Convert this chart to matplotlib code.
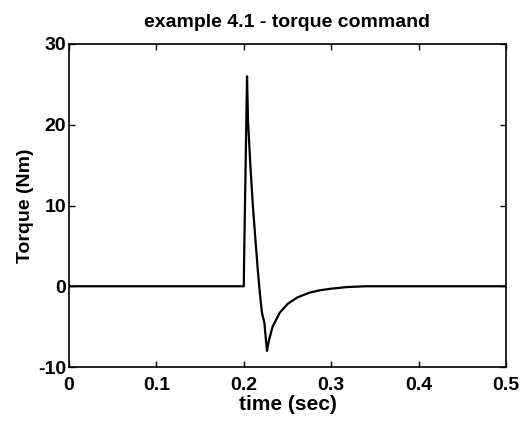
import matplotlib
matplotlib.use("Agg")
import matplotlib.pyplot as plt

# torque command
time_s = [0.0, 0.1, 0.2, 0.2003, 0.2037, 0.2048, 0.2075, 0.2105, 0.2135, 0.216,
          0.2185, 0.2208, 0.2235, 0.2265, 0.229, 0.233, 0.241, 0.25, 0.261,
          0.275, 0.287, 0.300, 0.318, 0.34, 0.4, 0.5]
torque_nm = [0.0, 0.0, 0.0, 3.0, 26.0, 20.6, 15.0, 9.8, 5.5, 2.0,
             -1.0, -3.3, -4.5, -8.0, -6.6, -5.0, -3.3, -2.2, -1.4,
             -0.8, -0.5, -0.3, -0.1, 0.0, 0.0, 0.0]

x_ticks = [0, 0.1, 0.2, 0.3, 0.4, 0.5]
x_labels = ['0', '0.1', '0.2', '0.3', '0.4', '0.5']
y_ticks = [-10, 0, 10, 20, 30]
y_labels = ['-10', '0', '10', '20', '30']

plt.rcParams['font.family'] = ['Liberation Sans', 'DejaVu Sans']
plt.rcParams['font.weight'] = 'bold'

fig = plt.figure(figsize=(5.25, 4.21), dpi=100)
ax = fig.add_axes([69/525, 1-367/421, (506-69)/525, (367-44)/421])
ax.plot(time_s, torque_nm, color='black', linewidth=1.6)

ax.set_xlim(0, 0.5)
ax.set_ylim(-10, 30)
ax.set_xticks(x_ticks)
ax.set_xticklabels(x_labels)
ax.set_yticks(y_ticks)
ax.set_yticklabels(y_labels)
# matlab style box: ticks pointing in on all four sides
ax.tick_params(direction='in', length=4, labelsize=14, width=1,
               top=True, right=True)
ax.tick_params(axis='x', pad=7)
ax.tick_params(axis='y', pad=2)
for s in ax.spines.values():
    s.set_linewidth(1.2)

ax.set_title('example 4.1 - torque command', fontsize=14, fontweight='bold', pad=12)
ax.set_xlabel('time (sec)', fontsize=15, fontweight='bold', labelpad=1)
ax.set_ylabel('Torque (Nm)', fontsize=14, fontweight='bold', labelpad=3)

fig.savefig('out.png', dpi=100)
